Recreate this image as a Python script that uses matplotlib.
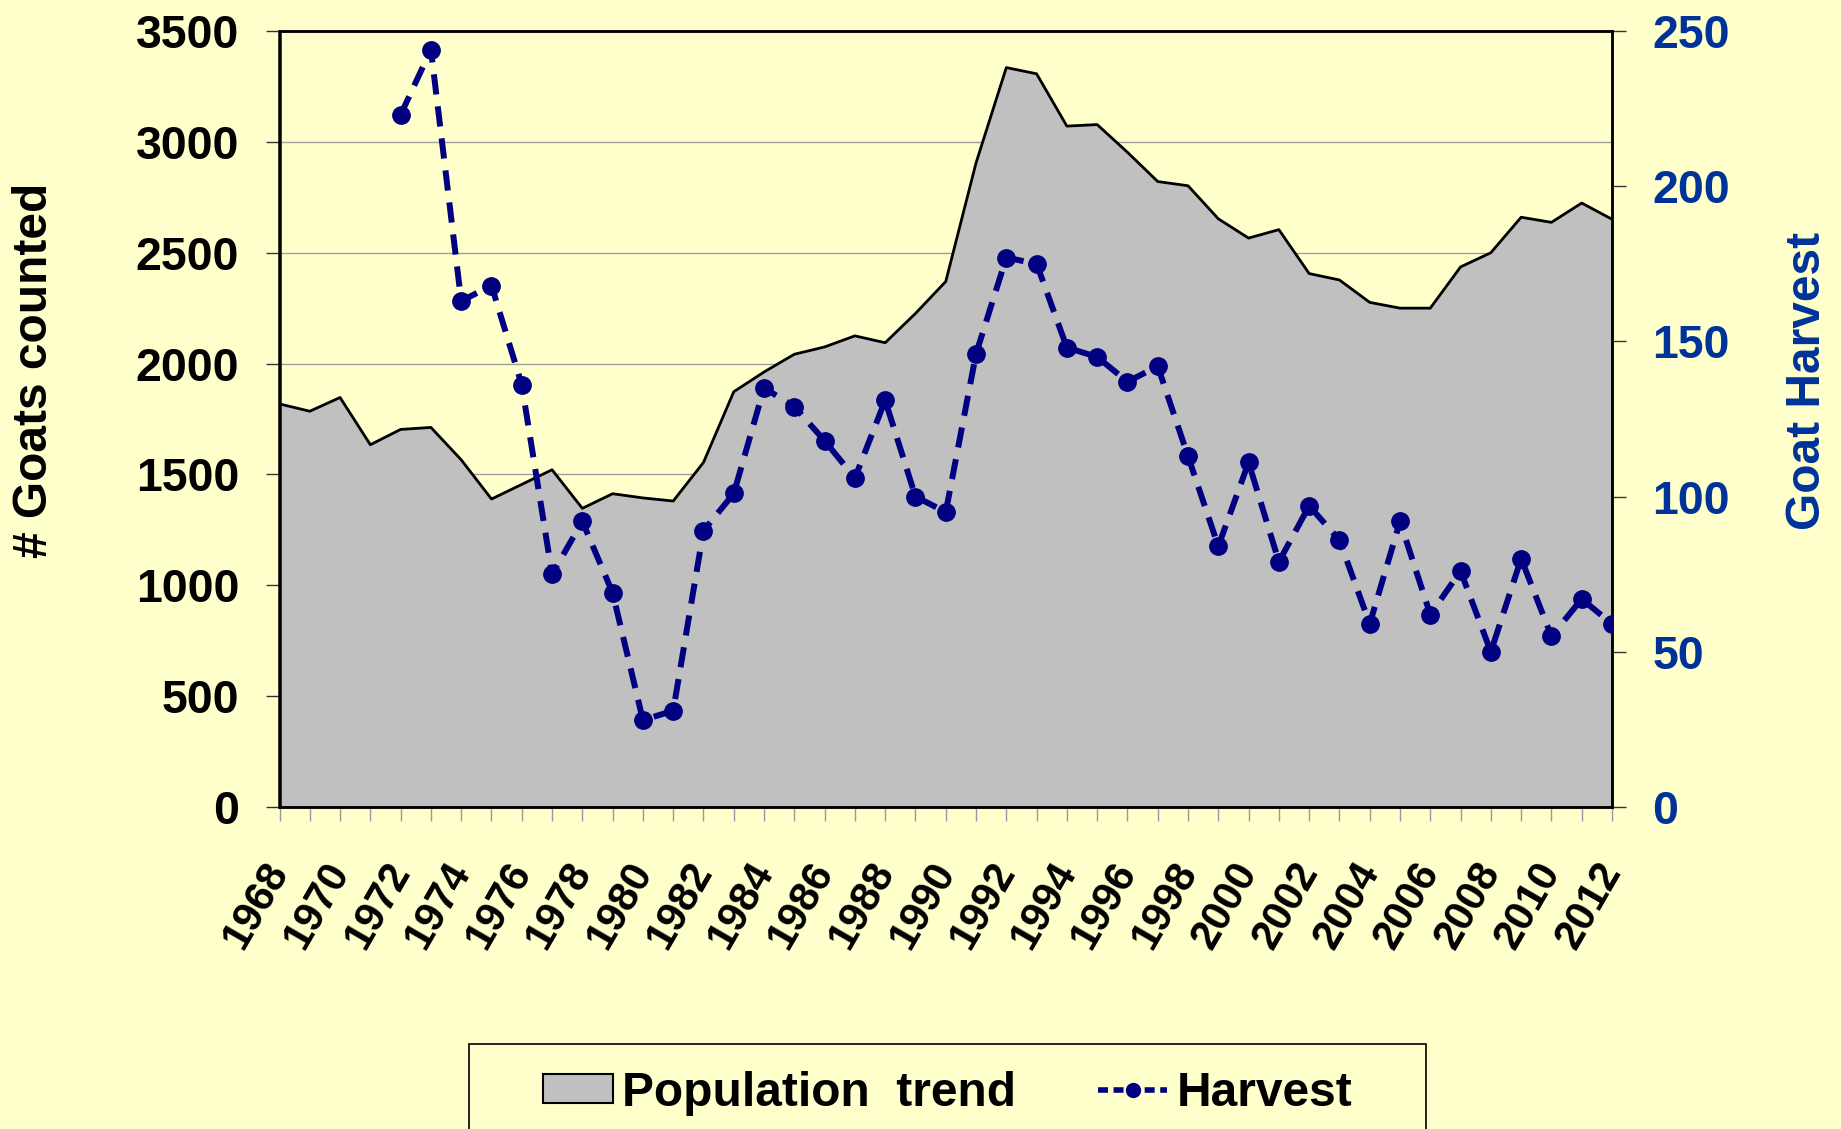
import matplotlib
matplotlib.use("Agg")
import matplotlib.pyplot as plt
from matplotlib.patches import Rectangle, Patch
from matplotlib.lines import Line2D

plt.rcParams['font.family'] = ['Liberation Sans', 'DejaVu Sans']
plt.rcParams['font.weight'] = 'bold'

years = list(range(1968, 2013))
population = [1818, 1785, 1847, 1634, 1703, 1712, 1566, 1389, 1455, 1521,
              1347, 1413, 1394, 1380, 1554, 1873, 1962, 2042, 2075, 2125,
              2094, 2226, 2370, 2905, 3335, 3307, 3071, 3078, 2953, 2821,
              2802, 2653, 2566, 2604, 2406, 2377, 2276, 2250, 2250, 2436,
              2500, 2660, 2637, 2724, 2651]
harvest_years = list(range(1972, 2013))
harvest = [223, 244, 163, 168, 136, 75, 92, 69, 28, 31,
           89, 101, 135, 129, 118, 106, 131, 100, 95, 146,
           177, 175, 148, 145, 137, 142, 113, 84, 111, 79,
           97, 86, 59, 92, 62, 76, 50, 80, 55, 67, 59]
left_ticks = [0, 500, 1000, 1500, 2000, 2500, 3000, 3500]
right_ticks = [0, 50, 100, 150, 200, 250]
xlabel_years = list(range(1968, 2013, 2))

BG = '#FFFFCC'
BLUE = '#003399'
NAVY = '#000080'

W, H = 1841, 1129
fig = plt.figure(figsize=(W / 100, H / 100), dpi=100, facecolor=BG)
L, R, T, B = 279.5, 1612, 31, 807
ax = fig.add_axes([L / W, 1 - B / H, (R - L) / W, (B - T) / H])
ax.set_facecolor(BG)

ax.set_axisbelow(True)
ax.yaxis.grid(True, color='#A0A0A0', lw=1.0)
ax.fill_between(years, population, 0, color='#C0C0C0', lw=0, zorder=2)
ax.plot(years, population, color='black', lw=2.0, zorder=3)
ax.set_xlim(1968, 2012)
ax.set_ylim(0, 3500)
ax.set_yticks(left_ticks)
ax.set_yticklabels([str(v) for v in left_ticks])
ax.set_xticks(years, minor=True)
ax.set_xticks(xlabel_years)
ax.set_xticklabels([str(y) for y in xlabel_years])
ax.tick_params(axis='y', which='both', direction='out', length=10, width=1,
               color='#333333', labelsize=33.5, pad=19, labelcolor='black')
ax.tick_params(axis='x', which='both', direction='out', length=10, width=1,
               color='#999999', labelsize=30, pad=32)
for lab in ax.get_xticklabels():
    lab.set_rotation(60)
    lab.set_ha('right')
    lab.set_va('center')
    lab.set_rotation_mode('anchor')
    lab.set_fontweight('bold')
for lab in ax.get_yticklabels():
    lab.set_fontweight('bold')
for s in ax.spines.values():
    s.set_color('black')
    s.set_linewidth(1.8)

ax2 = ax.twinx()
ax2.patch.set_visible(False)
ax2.plot(harvest_years, harvest, color=NAVY, lw=4.3, dashes=(3.4, 2.0),
         marker='o', markersize=12.5, zorder=4)
ax2.set_ylim(0, 250)
ax2.set_yticks(right_ticks)
ax2.set_yticklabels([str(v) for v in right_ticks])
ax2.tick_params(axis='y', direction='out', length=10, width=1,
                color='#333333', labelsize=33.5, pad=19, labelcolor=BLUE)
for lab in ax2.get_yticklabels():
    lab.set_fontweight('bold')
for s in ax2.spines.values():
    s.set_color('black')
    s.set_linewidth(1.8)

fig.text(35 / W, 1 - 370 / H, '# Goats counted', rotation=90, ha='center',
         va='center', fontsize=34.5, fontweight='bold', color='black')
fig.text(1808 / W, 1 - 381 / H, 'Goat Harvest', rotation=90, ha='center',
         va='center', fontsize=34.5, fontweight='bold', color=BLUE)

h1 = Patch(facecolor='#C0C0C0', edgecolor='black', lw=1.5)
h2 = Line2D([], [], color=NAVY, lw=4.0, dashes=(1.8, 1.0), marker='o', markersize=10)
leg = fig.legend([h1, h2], ['Population  trend', 'Harvest'], loc='center',
                 bbox_to_anchor=(948 / W, 1 - 1093 / H), ncol=2, frameon=False,
                 handlelength=1.45, handleheight=0.55,
                 handletextpad=0.2, columnspacing=1.7,
                 prop={'weight': 'bold', 'size': 34.5})
fig.patches.append(Rectangle((469 / W, -0.05), (1426 - 469) / W, 0.05 + 1 - 1044 / H,
                             transform=fig.transFigure, fill=False,
                             edgecolor='black', lw=1.2))

fig.savefig('out.png', dpi=100, facecolor=BG)
